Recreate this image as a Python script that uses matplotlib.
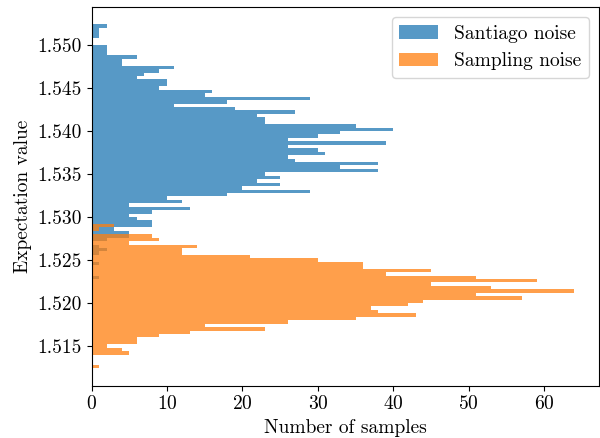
import matplotlib
matplotlib.use("Agg")
import matplotlib.pyplot as plt
import numpy as np
from matplotlib.ticker import FormatStrFormatter

plt.rcParams['font.family'] = 'serif'
plt.rcParams['font.serif'] = ['cmr10']
plt.rcParams['mathtext.fontset'] = 'cm'
plt.rcParams['axes.formatter.use_mathtext'] = True
plt.rcParams['font.size'] = 14

# shared bins for both histograms (100 bins)
bin_lo = 1.5124
bin_hi = 1.5524
n_bins = 100

# counts per bin, lowest bin first
# Sampling noise occupies bins 0..41
sampling_start = 0
sampling_counts = [1, 0, 0, 0, 5, 4, 2, 6, 6, 9,
                   13, 23, 15, 26, 35, 43, 38, 37, 42, 44,
                   57, 51, 64, 53, 45, 59, 51, 39, 45, 36,
                   36, 30, 21, 12, 12, 14, 5, 9, 8, 0,
                   1, 3]
# Santiago noise occupies bins 26..99
santiago_start = 26
santiago_counts = [1, 0, 0, 0, 1, 0, 0, 1, 2, 1,
                   0, 2, 5, 5, 3, 8, 8, 6, 5, 8,
                   13, 5, 12, 10, 18, 29, 20, 25, 22, 25,
                   23, 38, 33, 38, 27, 26, 31, 30, 26, 39,
                   26, 30, 33, 40, 35, 23, 23, 22, 27, 19,
                   11, 18, 29, 15, 16, 9, 10, 10, 6, 7,
                   9, 11, 4, 4, 6, 2, 2, 2, 0, 0,
                   1, 1, 1, 2]

edges = np.linspace(bin_lo, bin_hi, n_bins + 1)
centers = 0.5 * (edges[:-1] + edges[1:])

santiago = np.zeros(n_bins)
santiago[santiago_start:santiago_start + len(santiago_counts)] = santiago_counts
sampling = np.zeros(n_bins)
sampling[sampling_start:sampling_start + len(sampling_counts)] = sampling_counts

fig = plt.figure(figsize=(6.0, 4.38), dpi=100)
ax = fig.add_axes([91.5 / 600, 1 - 385.6 / 438, 507 / 600, 378.4 / 438])

ax.hist(centers, bins=edges, weights=santiago, orientation='horizontal',
        alpha=0.75, label='Santiago noise')
ax.hist(centers, bins=edges, weights=sampling, orientation='horizontal',
        alpha=0.75, label='Sampling noise')

ax.yaxis.set_major_formatter(FormatStrFormatter('%.3f'))
ax.set_xlabel('Number of samples')
ax.set_ylabel('Expectation value')
ax.legend(loc='upper right')

fig.savefig('out.png', dpi=100)
